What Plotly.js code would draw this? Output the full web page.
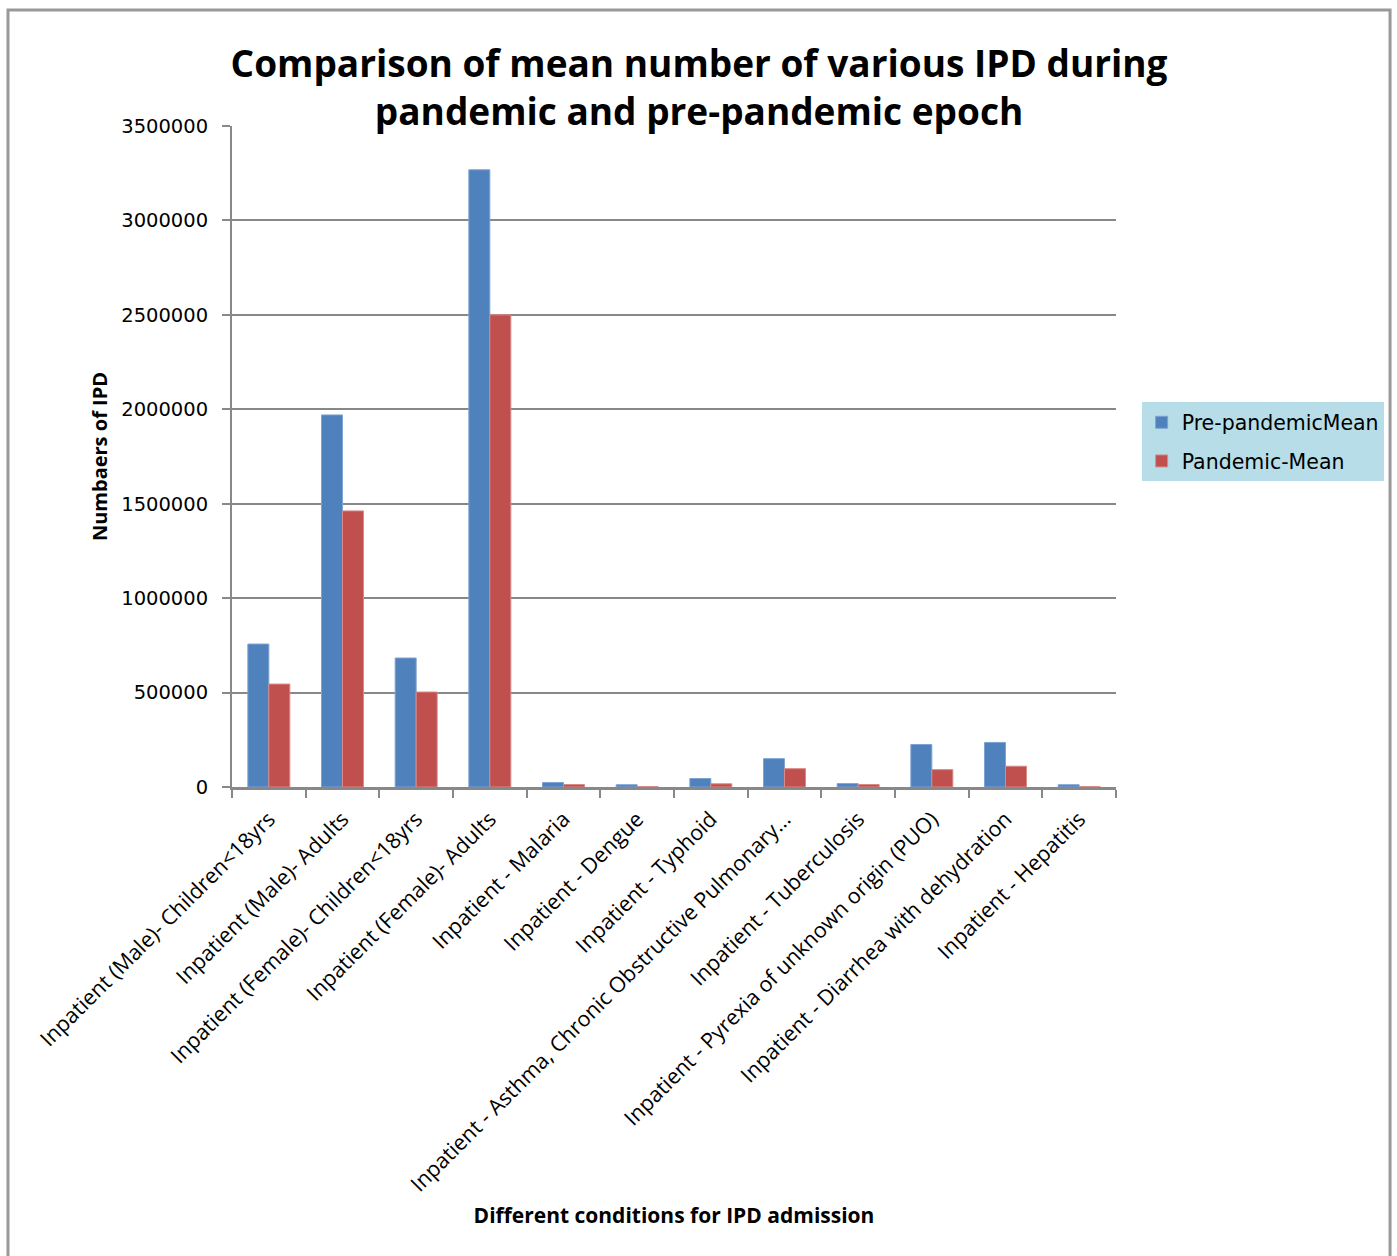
<!DOCTYPE html>
<html>
<head>
<meta charset="utf-8">
<script src="https://cdn.plot.ly/plotly-3.0.1.min.js"></script>
<style>
html,body{margin:0;padding:0;background:#fff;}
#chart{width:1397px;height:1256px;}
</style>
</head>
<body>
<div id="chart"></div>
<script>
const categories = [
  "Inpatient (Male)- Children<18yrs",
  "Inpatient (Male)- Adults",
  "Inpatient (Female)- Children<18yrs",
  "Inpatient (Female)- Adults",
  "Inpatient - Malaria",
  "Inpatient - Dengue",
  "Inpatient - Typhoid",
  "Inpatient - Asthma, Chronic Obstructive Pulmonary...",
  "Inpatient - Tuberculosis",
  "Inpatient - Pyrexia of unknown origin (PUO)",
  "Inpatient - Diarrhea with dehydration",
  "Inpatient - Hepatitis"
];
const prePandemicMean = [757000, 1970000, 683000, 3268000, 24000, 12000, 45000, 150000, 18000, 225000, 236000, 12000];
const pandemicMean = [545000, 1462000, 503000, 2500000, 13000, 2000, 17000, 97000, 13000, 92000, 110000, 2000];
const yTicks = [0, 500000, 1000000, 1500000, 2000000, 2500000, 3000000, 3500000];

const traces = [
  {type:'bar', name:'Pre-pandemicMean', x:categories, y:prePandemicMean, legendgroup:'a',
   marker:{color:'#4f81bd', line:{color:'#7ea3d4', width:1}}},
  {type:'bar', name:'Pandemic-Mean', x:categories, y:pandemicMean, legendgroup:'b',
   marker:{color:'#c0504d', line:{color:'#d88a88', width:1}}}
];

const gridCol = '#888888';
const layout = {
  width:1397, height:1256,
  margin:{l:232, r:281, t:126, b:469},
  paper_bgcolor:'#ffffff', plot_bgcolor:'#ffffff',
  barmode:'group', bargap:0.43, bargroupgap:0,
  title:{text:'Comparison of mean number of various IPD during<br>pandemic and pre-pandemic epoch',
    font:{family:'Open Sans, sans-serif', size:37, color:'#000', weight:'bold'},
    x:0.5004, xref:'container', xanchor:'center', y:0.939, yanchor:'top'},
  xaxis:{
    type:'category', tickangle:-45, tickson:'boundaries', ticks:'outside', ticklen:8,
    tickcolor:gridCol, tickwidth:2, showline:true, linecolor:gridCol, linewidth:3,
    ticklabelstandoff:8,
    tickfont:{family:'Open Sans, sans-serif', size:21.5, color:'#000'},
    title:{text:'Different conditions for IPD admission', standoff:13,
      font:{family:'Open Sans, sans-serif', size:21, color:'#000', weight:'bold'}},
    automargin:false
  },
  yaxis:{
    range:[0,3500000], tickvals:yTicks, ticktext:yTicks.map(String),
    showgrid:true, gridcolor:gridCol, gridwidth:2, zeroline:false,
    showline:true, linecolor:gridCol, linewidth:2, ticks:'outside', ticklen:8,
    tickcolor:gridCol, tickwidth:2, ticklabelstandoff:10,
    tickfont:{family:'DejaVu Sans, sans-serif', size:19.5, color:'#000'},
    title:{text:'Numbaers of IPD', standoff:8,
      font:{family:'Open Sans, sans-serif', size:20, color:'#000', weight:'bold'}},
    automargin:false
  },
  legend:{x:1.029, xanchor:'left', y:0.522, yanchor:'middle',
    bgcolor:'#b7dde8', borderwidth:0, traceorder:'grouped',
    font:{family:'DejaVu Sans, sans-serif', size:20.5, color:'#000'},
    itemwidth:30, tracegroupgap:9},
  shapes:[
    {type:'rect', xref:'paper', yref:'paper', x0:-0.2534, x1:1.31, y0:-1, y1:1.1755,
     line:{color:'#999999', width:3}, fillcolor:'rgba(0,0,0,0)', layer:'below'}
  ],
  showlegend:true
};

Plotly.newPlot('chart', traces, layout, {displayModeBar:false, staticPlot:true});
</script>
</body>
</html>
